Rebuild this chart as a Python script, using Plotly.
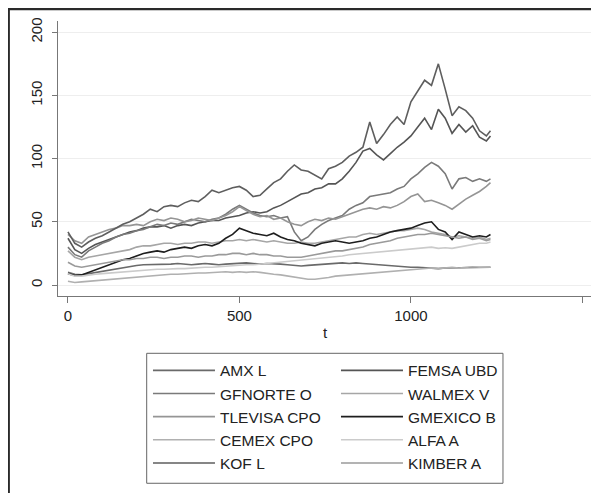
import plotly.graph_objects as go

T = list(range(0, 1221, 20)) + [1232]

AMX_L = [10, 8.5, 8, 9, 10, 11, 12, 13, 14, 15,
         15.5, 16, 16, 16.5, 16, 16.5, 17, 16.5, 16, 16.5,
         17, 16.5, 16, 16.5, 17, 17, 17.5, 17, 16.5, 17,
         17, 16.5, 16, 15.5, 15, 15.5, 16, 16.5, 17, 17,
         17.5, 17, 17.5, 17, 16.5, 16, 15.5, 15, 15, 14.5,
         14, 14, 13.5, 13, 13, 13.5, 13.5, 14, 14, 13.5,
         14, 14, 14]
FEMSA_UBD = [37, 28, 25, 29, 32, 34, 36, 38, 40, 42,
             43, 45, 46, 46, 47, 45, 47, 48, 47, 49,
             50, 51, 51, 53, 54, 55, 57, 58, 57, 58,
             61, 63, 66, 69, 72, 73, 76, 77, 80, 80,
             84, 90, 97, 106, 108, 103, 99, 104, 109, 113,
             118, 125, 132, 123, 139, 132, 120, 127, 121, 126,
             117, 114, 118]
GFNORTE_O = [30, 24, 22, 27, 30, 33, 35, 38, 40, 41,
             43, 44, 46, 48, 47, 49, 48, 50, 52, 51,
             50, 52, 53, 56, 60, 63, 60, 57, 55, 54,
             55, 53, 54, 42, 35, 38, 44, 48, 51, 53,
             55, 60, 63, 65, 70, 71, 72, 73, 76, 78,
             84, 88, 93, 97, 94, 88, 76, 84, 85, 82,
             84, 82, 84]
WALMEX_V = [27, 22, 20, 22, 23, 24, 25, 26, 27, 28,
            30, 31, 31, 32, 33, 33, 32, 33, 33, 34,
            34, 33, 34, 35, 35, 36, 35, 36, 35, 34,
            35, 34, 33, 33, 34, 33, 33, 34, 35, 36,
            37, 38, 38, 40, 41, 40, 41, 42, 43, 43,
            44, 45, 44, 42, 41, 40, 38, 39, 38, 37,
            38, 36, 37]
TLEVISA_CPO = [40, 35, 33, 38, 40, 42, 44, 45, 47, 47,
               48, 47, 50, 52, 51, 53, 52, 50, 51, 53,
               52, 51, 53, 55, 58, 62, 59, 56, 54, 55,
               52, 53, 50, 48, 47, 50, 52, 51, 53, 52,
               54, 56, 58, 60, 61, 60, 62, 61, 63, 66,
               70, 72, 66, 67, 65, 63, 60, 64, 68, 71,
               74, 78, 81]
GMEXICO_B = [9, 7.5, 8, 10, 12, 14, 16, 18, 20, 21,
             23, 25, 26, 27, 26, 28, 29, 30, 29, 31,
             32, 31, 33, 37, 40, 45, 43, 41, 40, 39,
             41, 38, 36, 35, 33, 32, 31, 33, 34, 35,
             34, 33, 34, 35, 37, 38, 40, 42, 43, 44,
             45, 47, 49, 50, 44, 42, 36, 42, 40, 38,
             39, 38, 40]
CEMEX_CPO = [3, 2, 2.5, 3, 3.5, 4, 4.5, 5, 5.5, 6,
             6.5, 7, 7.5, 8, 8, 8.5, 8.5, 9, 9, 9.5,
             9.5, 10, 10, 10.5, 10, 10.5, 10, 10.5, 10, 9,
             8.5, 8, 7, 6, 5.5, 4.5, 4.5, 5, 6, 7,
             7.5, 8, 8.5, 9, 9.5, 10, 10.5, 11, 11.5, 12,
             12.5, 13, 13.5, 13.5, 13, 13.5, 14, 13.5, 14, 14.5,
             14, 14, 14]
ALFA_A = [9, 7, 7, 8, 8.5, 9, 9.5, 10, 10.5, 11,
          11.5, 12, 12, 12.5, 12.5, 13, 13, 13, 13.5, 13.5,
          14, 14, 14.5, 15, 15, 15.5, 16, 16, 16.5, 17,
          17.5, 18, 18.5, 19, 19.5, 20, 21, 21, 22, 22.5,
          23, 24, 24.5, 25, 26, 26.5, 27, 27.5, 28, 28.5,
          29, 29, 29.5, 30, 29, 29.5, 29, 30, 31, 32,
          33, 33, 34]
KOF_L = [42, 33, 30, 34, 37, 39, 42, 45, 48, 50,
         53, 56, 60, 58, 62, 63, 62, 65, 67, 66,
         70, 75, 73, 75, 77, 78, 75, 70, 71, 76,
         81, 84, 90, 95, 91, 90, 87, 84, 92, 94,
         97, 102, 105, 109, 129, 112, 119, 127, 133, 127,
         145, 153, 162, 158, 175, 155, 134, 141, 138, 132,
         122, 118, 122]
KIMBER_A = [18, 15, 14, 15, 16, 17, 18, 19, 20, 20,
            21, 21, 22, 22, 21, 22, 22, 23, 23, 22,
            23, 23, 24, 24, 25, 25, 24, 25, 24, 24,
            23, 23, 22, 22, 22, 23, 24, 25, 26, 27,
            27, 28, 29, 30, 32, 33, 34, 35, 37, 38,
            39, 40, 40, 41, 40, 39, 38, 37, 38, 36,
            37, 35, 36]

NAMES = ["AMX L", "FEMSA UBD", "GFNORTE O", "WALMEX V", "TLEVISA CPO",
         "GMEXICO B", "CEMEX CPO", "ALFA A", "KOF L", "KIMBER A"]
SERIES = [AMX_L, FEMSA_UBD, GFNORTE_O, WALMEX_V, TLEVISA_CPO,
          GMEXICO_B, CEMEX_CPO, ALFA_A, KOF_L, KIMBER_A]
COLORS = ["#6a6a6a", "#555555", "#7a7a7a", "#a6a6a6", "#959595",
          "#1e1e1e", "#b0b0b0", "#cbcbcb", "#5e5e5e", "#9a9a9a"]

X_TICKS = [0, 500, 1000, 1500]
Y_TICKS = [0, 50, 100, 150, 200]

FONT = "Liberation Sans, Arial, sans-serif"

fig = go.Figure()
for name, vals, col in zip(NAMES, SERIES, COLORS):
    assert len(vals) == len(T), name
    fig.add_trace(go.Scatter(x=T, y=vals, mode="lines", name=name,
                             line=dict(color=col, width=1.6)))

fig.update_layout(
    width=591, height=485,
    margin=dict(l=50, r=7, t=13, b=197),
    paper_bgcolor="white", plot_bgcolor="white",
    font=dict(family=FONT, size=15, color="#222222"),
    showlegend=True,
    legend=dict(orientation="h", x=0.1685, y=-0.21, xanchor="left", yanchor="top",
                borderwidth=0, itemwidth=62, bgcolor="rgba(0,0,0,0)",
                entrywidth=111, font=dict(family=FONT, size=15.5, color="#222222"),
                traceorder="normal"),
    xaxis=dict(range=[-29, 1528], tickvals=X_TICKS, ticks="outside", ticklen=6,
               tickcolor="#777777", showline=True, linecolor="#777777", linewidth=1,
               showgrid=False, zeroline=False,
               title=dict(text="t", standoff=4, font=dict(family=FONT, size=15))),
    yaxis=dict(range=[-8.7, 208.9], tickvals=Y_TICKS, ticks="outside", ticklen=5,
               tickcolor="#777777", showline=True, linecolor="#777777", linewidth=1,
               showgrid=True, gridcolor="#eeeeee", gridwidth=1, zeroline=False,
               tickangle=-90, ticklabelstandoff=4),
    shapes=[
        dict(type="line", xref="paper", yref="paper", x0=-0.0929, x1=-0.0929,
             y0=1.0475, y1=-0.75, line=dict(color="#2a2a2a", width=3)),
        dict(type="line", xref="paper", yref="paper", x0=-0.095, x1=1.03,
             y0=1.0447, y1=1.0447, line=dict(color="#2a2a2a", width=3)),
        dict(type="rect", xref="paper", yref="paper", x0=0.1661, x1=0.8333,
             y0=-0.681, y1=-0.2084, line=dict(color="#666666", width=1)),
    ],
)

fig.write_html("out.html")
